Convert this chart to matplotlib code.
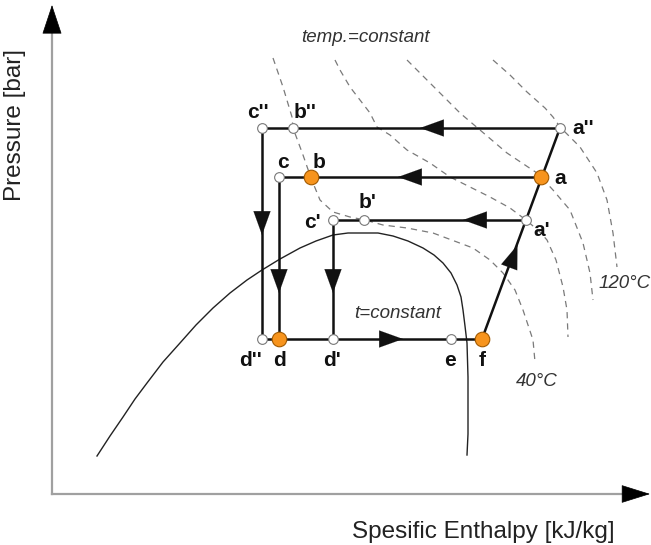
import matplotlib
matplotlib.use("Agg")
import matplotlib.pyplot as plt

plt.rcParams['font.family'] = ['Liberation Sans', 'DejaVu Sans']

# pressure levels (arbitrary units, origin at axes corner)
P_HIGH2 = 366   # a'' line
P_HIGH = 317    # a line
P_MID = 274     # a' line
P_LOW = 155     # evaporation line

# enthalpy of the state points
h_top = {"c''": 210, "b''": 241, "a''": 508}
h_mid = {"c": 227, "b": 259, "a": 489}
h_low = {"c'": 281, "b'": 312, "a'": 474}
h_bot = {"d''": 210, "d": 227, "d'": 281, "e": 399, "f": 430}
orange_pts = ["b", "a", "d", "f"]

# saturation dome
dome_h = [45, 58, 71, 83, 95, 111, 128, 144, 161, 178, 195, 210, 228, 248, 264,
          281, 296, 311, 326, 341, 356, 371, 382, 391, 399, 405, 409, 411, 413,
          415, 416, 416, 416, 415]
dome_p = [38, 58, 77, 95, 111, 132, 151, 169, 186, 201, 214, 224, 235, 246, 253,
          259, 261, 261, 261, 258, 253, 246, 239, 231, 221, 209, 197, 184, 168,
          151, 117, 84, 60, 39]

# isotherms (dashed)
iso1_h = [221, 231, 240, 241, 251, 259, 268, 281, 298, 313, 331, 355, 381, 421,
          438, 451, 463, 471, 481, 483]
iso1_p = [436, 407, 377, 366, 339, 316, 294, 282, 277, 274, 269, 266, 261, 246,
          234, 221, 204, 184, 154, 132]
iso2_h = [283, 288, 298, 308, 318, 325, 338, 355, 378, 398, 418, 438, 458, 474,
          488, 495, 504, 511, 515, 516]
iso2_p = [434, 424, 407, 394, 381, 367, 359, 344, 331, 317, 307, 297, 286, 274,
          262, 254, 234, 207, 184, 157]
iso3_h = [355, 368, 385, 408, 428, 455, 485, 489, 501, 518, 531, 538, 541]
iso3_p = [434, 421, 404, 381, 364, 341, 321, 317, 304, 284, 251, 221, 194]
iso4_h = [441, 458, 475, 493, 501, 508, 528, 545, 555, 561, 565]
iso4_p = [434, 419, 402, 386, 377, 367, 347, 321, 294, 261, 227]

fig = plt.figure(figsize=(6.51, 5.45), dpi=100)
ax = fig.add_axes([0, 0, 1, 1])
ax.set_xlim(-52, 599)
ax.set_ylim(-51, 494)
ax.axis('off')

# axes with arrows
ax.plot([0, 0], [0, 472], color='#a0a0a0', lw=1.6)
ax.plot([0, 582], [0, 0], color='#a0a0a0', lw=1.6)
ax.annotate('', xy=(0, 489), xytext=(0, 469),
            arrowprops=dict(arrowstyle='-|>,head_length=1.5,head_width=0.5',
                            color='black', lw=0.5, mutation_scale=13,
                            shrinkA=0, shrinkB=0))
ax.annotate('', xy=(598, 0), xytext=(578, 0),
            arrowprops=dict(arrowstyle='-|>,head_length=1.6,head_width=0.5',
                            color='black', lw=0.5, mutation_scale=12,
                            shrinkA=0, shrinkB=0))
ax.text(-37, 369, 'Pressure [bar]', rotation=90, ha='center', va='center',
        fontsize=17.5, color='#222222')
ax.text(431, -38, 'Spesific Enthalpy [kJ/kg]', ha='center', va='center',
        fontsize=17.5, color='#222222')

# isotherms
for hs, ps in [(iso1_h, iso1_p), (iso2_h, iso2_p), (iso3_h, iso3_p), (iso4_h, iso4_p)]:
    ax.plot(hs, ps, color='#7a7a7a', lw=0.9, ls=(0, (5, 4)))

# dome
ax.plot(dome_h, dome_p, color='#222222', lw=1.0)

# cycle lines
lc = '#111111'
lw = 1.8
ax.plot([h_top["c''"], h_top["a''"]], [P_HIGH2, P_HIGH2], color=lc, lw=lw)
ax.plot([h_mid["c"], h_mid["a"]], [P_HIGH, P_HIGH], color=lc, lw=lw)
ax.plot([h_low["c'"], h_low["a'"]], [P_MID, P_MID], color=lc, lw=lw)
ax.plot([h_bot["d''"], h_bot["f"]], [P_LOW, P_LOW], color=lc, lw=lw)
ax.plot([h_top["c''"], h_bot["d''"]], [P_HIGH2, P_LOW], color=lc, lw=lw)
ax.plot([h_mid["c"], h_bot["d"]], [P_HIGH, P_LOW], color=lc, lw=lw)
ax.plot([h_low["c'"], h_bot["d'"]], [P_MID, P_LOW], color=lc, lw=lw)
ax.plot([h_bot["f"], h_top["a''"]], [P_LOW, P_HIGH2], color=lc, lw=lw)

# arrow heads on the cycle
def head(tip, tail):
    ax.annotate('', xy=tip, xytext=tail,
                arrowprops=dict(arrowstyle='-|>,head_length=1.0,head_width=0.36',
                                color=lc, lw=0.1, mutation_scale=17,
                                shrinkA=0, shrinkB=0))

head((368, P_HIGH2), (390, P_HIGH2))
head((346, P_HIGH), (368, P_HIGH))
head((411, P_MID), (433, P_MID))
head((351, P_LOW), (329, P_LOW))
head((h_top["c''"], 259), (h_top["c''"], 281))
head((h_mid["c"], 201), (h_mid["c"], 223))
head((h_low["c'"], 201), (h_low["c'"], 223))
head((465.5, 249), (457.3, 227))

# state points and labels
levels = [(h_top, P_HIGH2), (h_mid, P_HIGH), (h_low, P_MID), (h_bot, P_LOW)]
for pts, p in levels:
    for name, h in pts.items():
        if name in orange_pts:
            ax.plot(h, p, 'o', ms=10.5, mfc='#f7941d', mec='#a25a00', mew=0.8, zorder=5)
        else:
            ax.plot(h, p, 'o', ms=7, mfc='white', mec='#777777', mew=0.8, zorder=5)

label_pos = {"c''": (206, 382), "b''": (253, 382), "c": (231, 332), "b": (267, 332),
             "c'": (260, 272), "b'": (316, 292), "a''": (531, 366), "a": (508, 316),
             "a'": (490, 264), "d''": (198, 134), "d": (228, 134), "d'": (280, 134),
             "e": (398, 134), "f": (430, 134)}
for name, (x, y) in label_pos.items():
    ax.text(x, y, name, ha='center', va='center', fontsize=15, fontweight='bold',
            color='#111111')

ax.text(313, 457, 'temp.=constant', ha='center', va='center', fontsize=13.5,
        style='italic', color='#333333')
ax.text(346, 181, 't=constant', ha='center', va='center', fontsize=13.5,
        style='italic', color='#333333')
ax.text(484.5, 112, '40°C', ha='center', va='center', fontsize=13.5,
        style='italic', color='#333333')
ax.text(547, 211, '120°C', ha='left', va='center', fontsize=13.5,
        style='italic', color='#333333')

fig.savefig('out.png', dpi=100)
